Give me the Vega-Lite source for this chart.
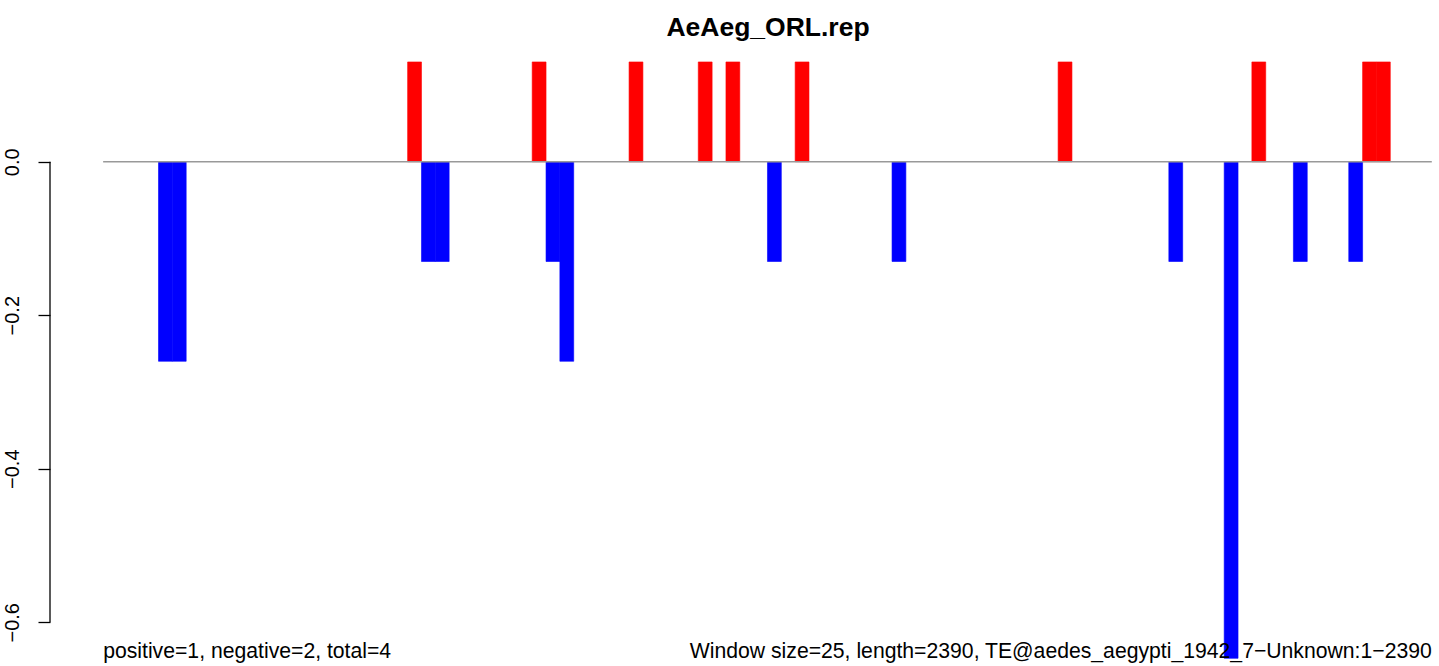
{
  "$schema": "https://vega.github.io/schema/vega-lite/v6.json",
  "autosize": "none",
  "padding": {"top": 38, "left": 50, "right": 0, "bottom": 0},
  "width": 1389,
  "height": 628,
  "background": "white",
  "config": {"view": {"stroke": null}, "font": "Liberation Sans"},
  "title": {
    "text": "AeAeg_ORL.rep",
    "font": "Liberation Sans",
    "fontSize": 26.5,
    "fontWeight": "bold",
    "color": "black",
    "anchor": "middle",
    "frame": "group",
    "dx": 23.5,
    "baseline": "alphabetic",
    "offset": -24
  },
  "encoding": {
    "x": {
      "type": "quantitative",
      "scale": {"domain": [-96, 2413], "nice": false, "zero": false},
      "axis": null
    },
    "y": {
      "type": "quantitative",
      "scale": {"domain": [-0.657, 0.1612], "nice": false, "zero": false},
      "axis": {
        "orient": "left",
        "values": [0, -0.2, -0.4, -0.6],
        "format": ".1f",
        "domain": false,
        "grid": false,
        "title": null,
        "ticks": true,
        "tickSize": 12,
        "tickColor": "black",
        "tickWidth": 1.3,
        "labelAngle": -90,
        "labelAlign": "center",
        "labelBaseline": "alphabetic",
        "labelPadding": 19.5,
        "labelFont": "Liberation Sans",
        "labelFontSize": 20,
        "labelColor": "black"
      }
    }
  },
  "layer": [
    {
      "data": {
        "values": [
          {"start": 100, "end": 125, "value": -0.26, "sign": "negative"},
          {"start": 125, "end": 150, "value": -0.26, "sign": "negative"},
          {"start": 550, "end": 575, "value": 0.13, "sign": "positive"},
          {"start": 575, "end": 600, "value": -0.13, "sign": "negative"},
          {"start": 600, "end": 625, "value": -0.13, "sign": "negative"},
          {"start": 775, "end": 800, "value": 0.13, "sign": "positive"},
          {"start": 800, "end": 825, "value": -0.13, "sign": "negative"},
          {"start": 825, "end": 850, "value": -0.26, "sign": "negative"},
          {"start": 950, "end": 975, "value": 0.13, "sign": "positive"},
          {"start": 1075, "end": 1100, "value": 0.13, "sign": "positive"},
          {"start": 1125, "end": 1150, "value": 0.13, "sign": "positive"},
          {"start": 1200, "end": 1225, "value": -0.13, "sign": "negative"},
          {"start": 1250, "end": 1275, "value": 0.13, "sign": "positive"},
          {"start": 1425, "end": 1450, "value": -0.13, "sign": "negative"},
          {"start": 1725, "end": 1750, "value": 0.13, "sign": "positive"},
          {"start": 1925, "end": 1950, "value": -0.13, "sign": "negative"},
          {"start": 2025, "end": 2050, "value": -0.647, "sign": "negative"},
          {"start": 2075, "end": 2100, "value": 0.13, "sign": "positive"},
          {"start": 2150, "end": 2175, "value": -0.13, "sign": "negative"},
          {"start": 2250, "end": 2275, "value": -0.13, "sign": "negative"},
          {"start": 2275, "end": 2300, "value": 0.13, "sign": "positive"},
          {"start": 2300, "end": 2325, "value": 0.13, "sign": "positive"}
        ]
      },
      "mark": {"type": "bar", "clip": true, "strokeWidth": 0.6},
      "encoding": {
        "x": {"field": "start", "type": "quantitative"},
        "x2": {"field": "end"},
        "y": {"field": "value", "type": "quantitative"},
        "y2": {"datum": 0},
        "color": {
          "field": "sign",
          "type": "nominal",
          "scale": {"domain": ["positive", "negative"], "range": ["#FF0000", "#0000FF"]},
          "legend": null
        },
        "stroke": {
          "field": "sign",
          "type": "nominal",
          "scale": {"domain": ["positive", "negative"], "range": ["#FF0000", "#0000FF"]},
          "legend": null
        }
      }
    },
    {
      "data": {"values": [{}]},
      "mark": {"type": "rule", "color": "#999999", "strokeWidth": 1.5},
      "encoding": {
        "x": {"datum": 0},
        "x2": {"datum": 2400},
        "y": {"datum": 0}
      }
    },
    {
      "data": {"values": [{}]},
      "mark": {"type": "rule", "color": "black", "strokeWidth": 1.3},
      "encoding": {
        "x": {"datum": -96},
        "y": {"datum": 0},
        "y2": {"datum": -0.6}
      }
    },
    {
      "data": {"values": [{}]},
      "mark": {"type": "text", "text": "positive=1, negative=2, total=4", "align": "left", "baseline": "alphabetic", "font": "Liberation Sans", "fontSize": 21.2, "fill": "black"},
      "encoding": {
        "x": {"datum": 0},
        "y": {"datum": -0.6466}
      }
    },
    {
      "data": {"values": [{}]},
      "mark": {"type": "text", "text": "Window size=25, length=2390, TE@aedes_aegypti_1942_7−Unknown:1−2390", "align": "right", "baseline": "alphabetic", "font": "Liberation Sans", "fontSize": 21.2, "fill": "black"},
      "encoding": {
        "x": {"datum": 2400},
        "y": {"datum": -0.6466}
      }
    }
  ]
}
